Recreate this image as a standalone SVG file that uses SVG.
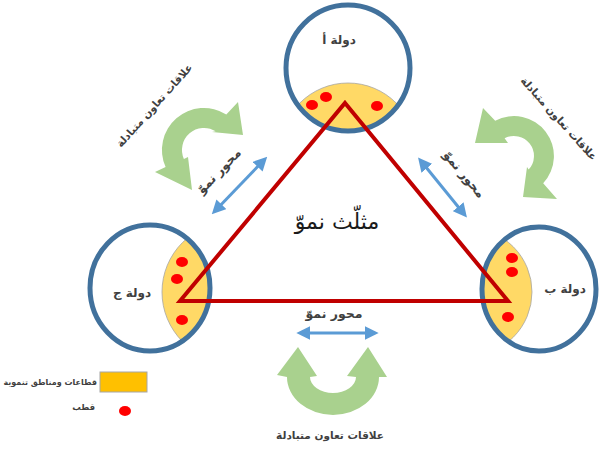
<svg xmlns="http://www.w3.org/2000/svg" width="600" height="450" viewBox="0 0 600 450">
<style>
.ring{fill:none;stroke:#41719C;stroke-width:5}
.lens{fill:#FFD966;stroke:#A6A6A6;stroke-width:0.8}
.pole{fill:#FF0000}
.lbl{font-family:"DejaVu Sans",sans-serif;font-weight:bold;fill:#404040;text-anchor:middle}
.end{text-anchor:end}
.green{fill:#A9D18E}
.axis{stroke:#5B9BD5;stroke-width:3;fill:none;marker-start:url(#ah);marker-end:url(#ah)}
</style>
<defs>
<marker id="ah" markerUnits="userSpaceOnUse" markerWidth="14" markerHeight="14" refX="8" refY="6" orient="auto-start-reverse" viewBox="0 0 12 12">
<path d="M0,0 L12,6 L0,12 Z" fill="#5B9BD5"/>
</marker>
<clipPath id="cA"><ellipse cx="348" cy="68" rx="61" ry="62"/></clipPath>
<clipPath id="cJ"><ellipse cx="150" cy="288" rx="59" ry="62"/></clipPath>
<clipPath id="cB"><ellipse cx="539" cy="289" rx="56" ry="60"/></clipPath>
</defs>
<rect width="600" height="450" fill="#FFFFFF"/>

<g id="node-a">
<circle class="lens" cx="348" cy="151" r="68" clip-path="url(#cA)"/>
<ellipse class="ring" cx="348" cy="68" rx="62" ry="63"/>
<ellipse class="pole" cx="312" cy="105" rx="6" ry="5"/>
<ellipse class="pole" cx="326" cy="97" rx="6" ry="5"/>
<ellipse class="pole" cx="377" cy="106" rx="6" ry="5"/>
<text class="lbl" x="339" y="44" font-size="12">دولة أ</text>
</g>

<g id="node-j">
<circle class="lens" cx="232" cy="292" r="70" clip-path="url(#cJ)"/>
<ellipse class="ring" cx="150" cy="288" rx="60" ry="63"/>
<ellipse class="pole" cx="182" cy="262" rx="6" ry="5"/>
<ellipse class="pole" cx="177" cy="279" rx="6" ry="5"/>
<ellipse class="pole" cx="182" cy="320" rx="6" ry="5"/>
<text class="lbl" x="132" y="297" font-size="12">دولة ج</text>
</g>

<g id="node-b">
<circle class="lens" cx="468" cy="292" r="64" clip-path="url(#cB)"/>
<ellipse class="ring" cx="539" cy="289" rx="57" ry="62"/>
<ellipse class="pole" cx="512" cy="258" rx="6" ry="5"/>
<ellipse class="pole" cx="512" cy="272" rx="6" ry="5"/>
<ellipse class="pole" cx="508" cy="317" rx="6" ry="5"/>
<text class="lbl" x="565" y="293" font-size="12">دولة ب</text>
</g>

<g id="triangle">
<polygon points="345,103 508,301 180,301" fill="none" stroke="#C00000" stroke-width="4" stroke-linejoin="miter"/>
<text x="337" y="229" font-family="DejaVu Sans, sans-serif" font-size="22" fill="#1a1a1a" text-anchor="middle">مثلّث نموّ</text>
</g>

<g id="connectors">
<line class="axis" x1="215" y1="211" x2="264" y2="160"/>
<line class="axis" x1="421" y1="161" x2="464" y2="214"/>
<line class="axis" x1="301" y1="333" x2="374" y2="333"/>
<path class="green" d="M183.9,158.9 L188,157 L192,190 L155,172 L165.6,167.1 A42,42 0 0 1 226.3,114.4 L238,102 L243,135 L212,132 L215.7,131.3 A22,22 0 0 0 183.9,158.9 Z"/>
<path class="green" d="M504.6,138.3 L508,143 L475,143 L483,108 L495.2,120.7 A40,40 0 0 1 543.2,183.3 L557,199 L523,197 L527,167 L528.6,169.6 A20,20 0 0 0 504.6,138.3 Z"/>
<path class="green" d="M287,377 A46,38 0 0 0 379,377 L387,377 L368,347 L347,376 L356,377 A23,16 0 0 1 310,377 L317,376 L298,347 L277,375 Z"/>
<text class="lbl" font-size="12.5" transform="translate(222,174) rotate(-46)">محور نموّ</text>
<text class="lbl" font-size="12.5" transform="translate(461,177) rotate(50)">محور نموّ</text>
<text class="lbl" font-size="12.5" x="334" y="318">محور نموّ</text>
<text class="lbl" font-size="10.5" transform="translate(157,108) rotate(-48)">علاقات تعاون متبادلة</text>
<text class="lbl" font-size="10.5" transform="translate(556,121) rotate(48)">علاقات تعاون متبادلة</text>
<text class="lbl" font-size="10.5" x="330" y="439">علاقات تعاون متبادلة</text>
</g>

<g id="legend">
<rect x="100" y="372" width="47" height="20" fill="#FFC000" stroke="#A6A6A6" stroke-width="1"/>
<text class="lbl end" font-size="8" x="97" y="385">قطاعات ومناطق تنموية</text>
<ellipse class="pole" cx="125" cy="411" rx="6" ry="5"/>
<text class="lbl end" font-size="8.5" x="95" y="410">قطب</text>
</g>
</svg>
